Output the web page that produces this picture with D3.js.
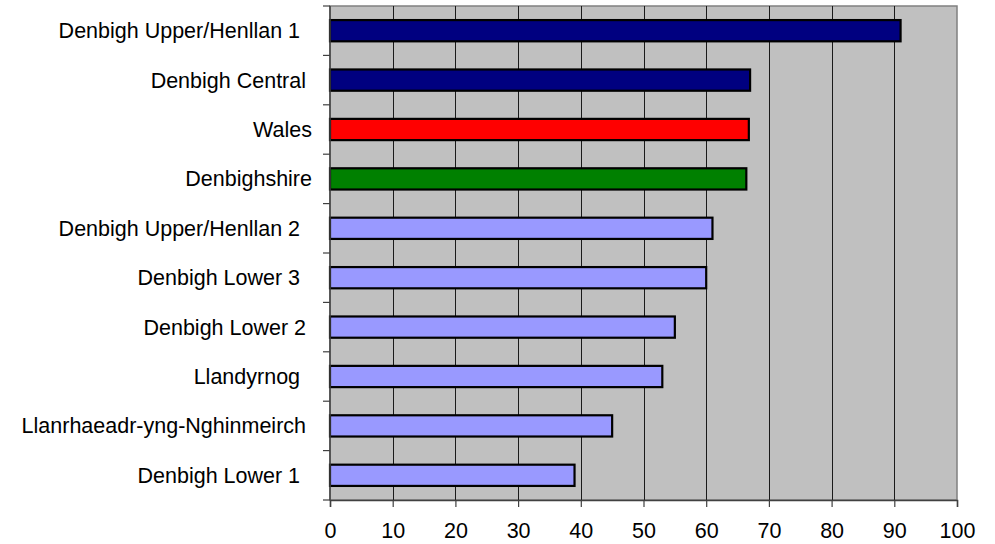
<!DOCTYPE html>
<html>
<head>
<meta charset="utf-8">
<script src="https://cdn.jsdelivr.net/npm/d3@7"></script>
<style>
  html, body { margin: 0; padding: 0; background: #fff; }
  svg text { font-family: "Liberation Sans", Arial, sans-serif; white-space: pre; }
</style>
</head>
<body>
<svg id="chart" width="995" height="544"></svg>
<script>
// Area names as they appear on the category axis (trailing spaces kept)
const categories = [
  "Denbigh Upper/Henllan 1  ",
  "Denbigh Central ",
  "Wales",
  "Denbighshire",
  "Denbigh Upper/Henllan 2  ",
  "Denbigh Lower 3  ",
  "Denbigh Lower 2 ",
  "Llandyrnog  ",
  "Llanrhaeadr-yng-Nghinmeirch ",
  "Denbigh Lower 1  "
];
const values = [91, 67, 66.8, 66.4, 61, 60, 55, 53, 45, 39];
const groups = ["ward", "ward", "wales", "county", "other", "other", "other", "other", "other", "other"];
const groupColors = { ward: "#000080", wales: "#ff0000", county: "#008000", other: "#9999ff" };
const xTicks = [0, 10, 20, 30, 40, 50, 60, 70, 80, 90, 100];

const svg = d3.select("#chart");
const plot = { left: 330, right: 957, top: 6, bottom: 500 };

const x = d3.scaleLinear().domain([0, 100]).range([plot.left, plot.right]);
const y = d3.scaleBand()
  .domain(categories)
  .range([plot.top, plot.bottom])
  .paddingInner(0.57)
  .paddingOuter(0.285);

// plot background
svg.append("rect")
  .attr("x", plot.left).attr("y", plot.top)
  .attr("width", plot.right - plot.left).attr("height", plot.bottom - plot.top)
  .attr("fill", "#c0c0c0")
  .attr("stroke", "#808080").attr("stroke-width", 1.5);

// vertical gridlines
svg.append("g")
  .selectAll("line")
  .data(xTicks.slice(1, -1))
  .join("line")
  .attr("x1", d => Math.round(x(d)) + 0.5).attr("x2", d => Math.round(x(d)) + 0.5)
  .attr("y1", plot.top).attr("y2", plot.bottom)
  .attr("stroke", "#1a1a1a").attr("stroke-width", 1);

// bars
svg.append("g")
  .selectAll("rect")
  .data(categories.map((c, i) => ({ c, v: values[i], g: groups[i] })))
  .join("rect")
  .attr("x", x(0))
  .attr("y", d => y(d.c))
  .attr("width", d => x(d.v) - x(0))
  .attr("height", y.bandwidth())
  .attr("fill", d => groupColors[d.g])
  .attr("stroke", "#000").attr("stroke-width", 2.2);

// value axis
const xAxis = svg.append("g")
  .attr("transform", `translate(0,${plot.bottom})`)
  .call(d3.axisBottom(x).tickValues(xTicks).tickSize(7).tickPadding(16).tickFormat(d3.format("d")));
xAxis.select(".domain").attr("stroke", "#404040").attr("stroke-width", 1.5);
xAxis.selectAll(".tick line").attr("stroke", "#404040").attr("stroke-width", 1.2);
xAxis.selectAll("text").attr("font-size", 21.5).attr("fill", "#000");

// category axis: ticks on band boundaries, labels centred in bands
const yAxis = svg.append("g").attr("transform", `translate(${plot.left},0)`);
yAxis.append("line")
  .attr("x1", 0).attr("x2", 0).attr("y1", plot.top).attr("y2", plot.bottom)
  .attr("stroke", "#404040").attr("stroke-width", 1.5);
const boundaries = categories.map(c => y(c) - y.step() * y.paddingInner() / 2).concat([plot.bottom]);
yAxis.selectAll(".bt")
  .data(boundaries)
  .join("line")
  .attr("class", "bt")
  .attr("x1", -7).attr("x2", 0)
  .attr("y1", d => d).attr("y2", d => d)
  .attr("stroke", "#404040").attr("stroke-width", 1.2);
yAxis.selectAll("text")
  .data(categories)
  .join("text")
  .attr("x", -18)
  .attr("y", d => y(d) + y.bandwidth() / 2)
  .attr("dy", "0.35em")
  .attr("text-anchor", "end")
  .attr("font-size", 21.5)
  .attr("fill", "#000")
  .text(d => d);
</script>
</body>
</html>
